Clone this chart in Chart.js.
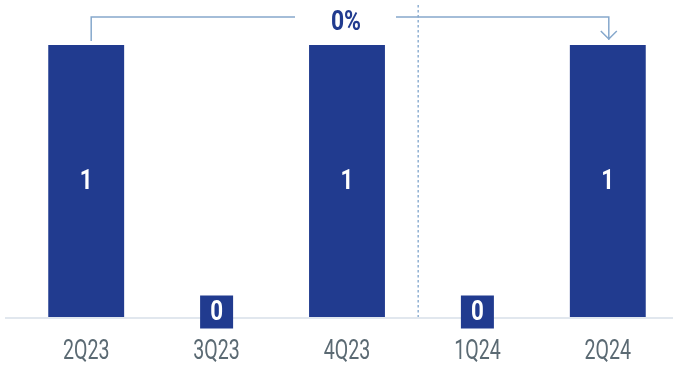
<!DOCTYPE html>
<html>
<head>
<meta charset="utf-8">
<script src="https://cdn.jsdelivr.net/npm/chart.js@4/dist/chart.umd.min.js"></script>
<style>
	body { margin: 0; background: #fff; }
	#wrap { width: 673px; height: 368px; }
</style>
</head>
<body>
<div id="wrap"><canvas id="myChart"></canvas></div>
<script>
// 차트 데이터
const quarters = ['2Q23', '3Q23', '4Q23', '1Q24', '2Q24'];
const counts = [1, 0, 1, 0, 1];
const changeText = '0%';

const barColor = '#213b8f';
const lineColor = '#86a8cc';
const fontName = 'Roboto, "DejaVu Sans Condensed", sans-serif';

// 좁은 글꼴 흉내: 가로로 눌러서 텍스트 그리기
function narrowText(ctx, text, x, y, sx) {
	ctx.save();
	ctx.translate(x, y);
	ctx.scale(sx, 1);
	ctx.fillText(text, 0, 0);
	ctx.restore();
}

// 막대 안 숫자, 0 상자, 화살표, 점선, 축 라벨 그리기
const overlayPlugin = {
	id: 'overlay',
	afterDatasetsDraw(chart) {
		const ctx = chart.ctx;
		const meta = chart.getDatasetMeta(0);
		const xScale = chart.scales.x;
		const yScale = chart.scales.y;
		const base = yScale.getPixelForValue(0);

		// 축 선
		ctx.save();
		ctx.strokeStyle = '#e1e7ee';
		ctx.lineWidth = 2;
		ctx.beginPath();
		ctx.moveTo(5, base + 1);
		ctx.lineTo(chart.width, base + 1);
		ctx.stroke();

		// 점선 구분선
		const xa = meta.data[2].x;
		const xb = meta.data[3].x;
		const sep = (xa + xb) / 2 + 6;
		ctx.strokeStyle = '#8fb0d2';
		ctx.lineWidth = 1.5;
		ctx.setLineDash([2.5, 2.5]);
		ctx.beginPath();
		ctx.moveTo(sep, 5);
		ctx.lineTo(sep, base);
		ctx.stroke();
		ctx.setLineDash([]);

		// 카테고리 라벨
		ctx.textAlign = 'center';
		ctx.textBaseline = 'middle';
		ctx.fillStyle = '#5b6a73';
		ctx.font = '28px ' + fontName;
		quarters.forEach(function(q, i) {
			narrowText(ctx, q, xScale.getPixelForTick(i), base + 35, 0.7);
		});

		// 값 라벨
		ctx.font = 'bold 28px ' + fontName;
		meta.data.forEach(function(bar, i) {
			if (counts[i] > 0) {
				ctx.fillStyle = '#ffffff';
				narrowText(ctx, String(counts[i]), bar.x, (bar.y + bar.base) / 2 + 1, 0.8);
			} else {
				const size = 33;
				const cy = base - 5;
				ctx.fillStyle = barColor;
				ctx.fillRect(bar.x - size / 2, cy - size / 2, size, size);
				ctx.fillStyle = '#ffffff';
				narrowText(ctx, String(counts[i]), bar.x, cy + 1, 0.8);
			}
		});

		// 화살표 연결선
		const first = meta.data[0];
		const last = meta.data[meta.data.length - 1];
		const topY = 17;
		const x1 = first.x + 5;
		const x2 = last.x + 1;
		const midX = 346;
		ctx.strokeStyle = lineColor;
		ctx.lineWidth = 1.5;
		ctx.beginPath();
		ctx.moveTo(x1, first.y - 4);
		ctx.lineTo(x1, topY);
		ctx.lineTo(midX - 51, topY);
		ctx.moveTo(midX + 50, topY);
		ctx.lineTo(x2, topY);
		ctx.lineTo(x2, last.y - 5);
		ctx.moveTo(x2 - 8, last.y - 14);
		ctx.lineTo(x2, last.y - 6);
		ctx.lineTo(x2 + 8, last.y - 14);
		ctx.stroke();

		// 변화율 텍스트
		ctx.fillStyle = barColor;
		ctx.font = 'bold 27px ' + fontName;
		narrowText(ctx, changeText, midX, topY + 6, 0.85);
		ctx.restore();
	}
};

document.addEventListener('DOMContentLoaded', function() {
	const ctx = document.getElementById('myChart').getContext('2d');
	const chart = new Chart(ctx, {
		type: 'bar',
		data: {
			labels: quarters,
			datasets: [
				{
					data: counts,
					backgroundColor: barColor,
					borderWidth: 0,
					categoryPercentage: 1,
					barPercentage: 0.582
				}
			]
		},
		options: {
			responsive: true,
			maintainAspectRatio: false,
			animation: false,
			layout: {
				padding: { top: 45, bottom: 51, left: 21, right: 0 }
			},
			scales: {
				x: {
					display: false
				},
				y: {
					display: false,
					min: 0,
					max: 1
				}
			},
			plugins: {
				legend: { display: false },
				tooltip: { enabled: false }
			}
		},
		plugins: [overlayPlugin]
	});
	console.log(chart);
});
</script>
</body>
</html>
